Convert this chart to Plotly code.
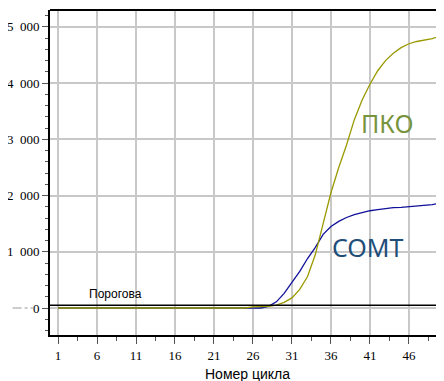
import plotly.graph_objects as go

cycles = list(range(1, 51))
pko = [0]*25 + [20, 25, 30, 50, 100, 180, 330, 560, 950, 1500, 2050, 2500, 2900, 3350, 3700,
                3980, 4220, 4400, 4530, 4630, 4700, 4740, 4770, 4790, 4840]
comt = [0]*27 + [30, 110, 260, 450, 650, 880, 1080, 1310, 1450, 1540, 1610, 1660, 1700,
                 1730, 1750, 1770, 1785, 1790, 1800, 1810, 1830, 1840, 1865]
threshold = 50
y_ticks = [0, 1000, 2000, 3000, 4000, 5000]
y_ticktext = ["0", "1\u2002000", "2\u2002000", "3\u2002000", "4\u2002000", "5\u2002000"]

serif = "Times New Roman"

fig = go.Figure()
fig.add_trace(go.Scatter(x=cycles, y=comt, mode="lines", line=dict(color="#10109a", width=1.3),
                         name="COMT", showlegend=False))
fig.add_trace(go.Scatter(x=cycles, y=pko, mode="lines", line=dict(color="#999900", width=1.3),
                         name="ПКО", showlegend=False))

fig.add_shape(type="line", xref="paper", x0=0, x1=1, yref="y", y0=threshold, y1=threshold,
              line=dict(color="black", width=1.5))
fig.add_shape(type="line", xref="paper", x0=0, x1=1, yref="paper", y0=1, y1=1,
              line=dict(color="black", width=2))
fig.add_shape(type="line", xref="paper", x0=-0.095, x1=-0.04, yref="y", y0=0, y1=0,
              line=dict(color="#999999", width=1, dash="dashdot"))

fig.add_annotation(x=43.2, y=3256, text="ПКО", showarrow=False, xanchor="center", yanchor="middle",
                   yshift=2, font=dict(family="Noto Sans", size=25, color="#77933c"))
fig.add_annotation(x=40.7, y=1050, text="COMT", showarrow=False, xanchor="center", yanchor="middle",
                   yshift=2, font=dict(family="Noto Sans", size=25, color="#1f4e79"))
fig.add_annotation(x=4.7, y=50, text="Порогова", showarrow=False, xanchor="left", yanchor="bottom",
                   yshift=2, font=dict(family="Liberation Sans", size=12, color="black"))
fig.add_annotation(xref="paper", yref="paper", x=0.5, y=0, yshift=-29, xanchor="center", yanchor="top",
                   text="Номер цикла", showarrow=False,
                   font=dict(family="Liberation Sans", size=14, color="black"))

fig.update_layout(
    width=436, height=373,
    margin=dict(l=42, r=0, t=2, b=46),
    plot_bgcolor="white", paper_bgcolor="white",
    xaxis=dict(range=[-0.03, 50.5], tickmode="linear", tick0=1, dtick=5, automargin=False,
               showgrid=True, gridcolor="#c8c8c8", gridwidth=1.5, zeroline=False,
               showline=True, linecolor="black", linewidth=2,
               ticks="outside", ticklen=7, tickcolor="#555555",
               minor=dict(ticks="outside", ticklen=4, tick0=1, dtick=2.5, tickcolor="#555555", showgrid=False),
               tickfont=dict(family=serif, size=13, color="black")),
    yaxis=dict(range=[-480, 5300], tickmode="array", tickvals=y_ticks, ticktext=y_ticktext, automargin=False,
               showgrid=True, gridcolor="#c8c8c8", gridwidth=1.5, zeroline=False,
               showline=True, linecolor="black", linewidth=2,
               ticks="outside", ticklen=6, tickcolor="#555555",
               minor=dict(ticks="outside", ticklen=3, tick0=0, dtick=200, tickcolor="#555555", showgrid=False),
               tickfont=dict(family=serif, size=13, color="black")),
)
fig.write_html("out.html")
